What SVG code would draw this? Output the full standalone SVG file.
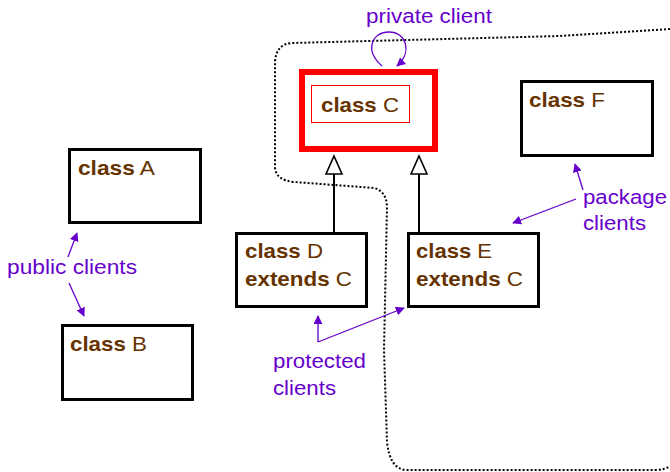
<svg xmlns="http://www.w3.org/2000/svg" width="670" height="472" viewBox="0 0 670 472">
<style>
  .box{fill:#fff;stroke:#000;stroke-width:3}
  .t{font-family:"Liberation Sans",Arial,sans-serif;font-size:21px;fill:#663300}
  .b{font-weight:bold}
  .lbl{font-family:"Liberation Sans",Arial,sans-serif;font-size:20.5px;fill:#6600CC}
  .pa{fill:none;stroke:#6600CC;stroke-width:1.3}
  .inh{fill:none;stroke:#000;stroke-width:2}
  .tri{fill:#fff;stroke:#000;stroke-width:1.6}
</style>
<defs>
  <marker id="ah" viewBox="0 0 10 10" refX="9" refY="5" markerWidth="9" markerHeight="9" markerUnits="userSpaceOnUse" orient="auto">
    <path d="M0,0 L10,5 L0,10 Z" fill="#6600CC"/>
  </marker>
</defs>
<rect width="670" height="472" fill="#fff"/>
<g id="boundary">
  <path d="M670 29 L560 36 L292 43 Q276 44 275 62 L275 168 Q276 180 294 182 L374 188 Q386 191 387 206 L384 350 L387 442 Q390 469 406 470 L655 470 Q665 470 670 466" fill="none" stroke="#000" stroke-width="2" stroke-dasharray="2 2"/>
</g>
<g id="classC">
  <rect x="302" y="72" width="133" height="77" fill="#fff" stroke="#ff0000" stroke-width="6"/>
  <rect x="311.5" y="85.5" width="98" height="37" fill="none" stroke="#ff0000" stroke-width="1"/>
  <text class="t" x="321" y="112" textLength="78" lengthAdjust="spacingAndGlyphs"><tspan class="b">class</tspan> C</text>
</g>
<g id="classF">
  <rect class="box" x="521.5" y="81.5" width="131" height="74"/>
  <text class="t" x="529" y="107" textLength="76" lengthAdjust="spacingAndGlyphs"><tspan class="b">class</tspan> F</text>
</g>
<g id="classA">
  <rect class="box" x="69.5" y="149.5" width="131" height="73"/>
  <text class="t" x="78" y="175" textLength="77" lengthAdjust="spacingAndGlyphs"><tspan class="b">class</tspan> A</text>
</g>
<g id="classB">
  <rect class="box" x="62.5" y="325.5" width="130" height="74"/>
  <text class="t" x="70" y="351" textLength="77" lengthAdjust="spacingAndGlyphs"><tspan class="b">class</tspan> B</text>
</g>
<g id="classD">
  <rect class="box" x="236.5" y="233.5" width="130" height="73"/>
  <text class="t" x="245" y="258" textLength="78" lengthAdjust="spacingAndGlyphs"><tspan class="b">class</tspan> D</text>
  <text class="t" x="245" y="286" textLength="107" lengthAdjust="spacingAndGlyphs"><tspan class="b">extends</tspan> C</text>
</g>
<g id="classE">
  <rect class="box" x="408.5" y="233.5" width="130" height="73"/>
  <text class="t" x="416" y="258" textLength="76" lengthAdjust="spacingAndGlyphs"><tspan class="b">class</tspan> E</text>
  <text class="t" x="416" y="286" textLength="107" lengthAdjust="spacingAndGlyphs"><tspan class="b">extends</tspan> C</text>
</g>
<g id="labels">
  <text class="lbl" x="366" y="23" textLength="126" lengthAdjust="spacingAndGlyphs">private client</text>
  <text class="lbl" x="7" y="274" textLength="130" lengthAdjust="spacingAndGlyphs">public clients</text>
  <text class="lbl" x="583" y="204" textLength="84" lengthAdjust="spacingAndGlyphs">package</text>
  <text class="lbl" x="583" y="230" textLength="63" lengthAdjust="spacingAndGlyphs">clients</text>
  <text class="lbl" x="273" y="368" textLength="93" lengthAdjust="spacingAndGlyphs">protected</text>
  <text class="lbl" x="273" y="395" textLength="63" lengthAdjust="spacingAndGlyphs">clients</text>
</g>
<g id="connectors">
  <line class="inh" x1="334" y1="232" x2="334" y2="174"/>
  <path class="tri" d="M334 156 L342 174 L326 174 Z"/>
  <line class="inh" x1="419" y1="232" x2="419" y2="174"/>
  <path class="tri" d="M419 156 L427 174 L411 174 Z"/>
  <path class="pa" d="M382 66 C364 50 372 32 389 32 C406 32 413 52 397 66" marker-end="url(#ah)"/>
  <line class="pa" x1="68" y1="257" x2="77" y2="233" marker-end="url(#ah)"/>
  <line class="pa" x1="69" y1="283" x2="84" y2="316" marker-end="url(#ah)"/>
  <line class="pa" x1="583" y1="190" x2="575" y2="164" marker-end="url(#ah)"/>
  <line class="pa" x1="576" y1="199" x2="513" y2="223" marker-end="url(#ah)"/>
  <path class="pa" d="M318 342 L318 316" marker-end="url(#ah)"/>
  <path class="pa" d="M318 342 L404 308" marker-end="url(#ah)"/>
</g>
</svg>
